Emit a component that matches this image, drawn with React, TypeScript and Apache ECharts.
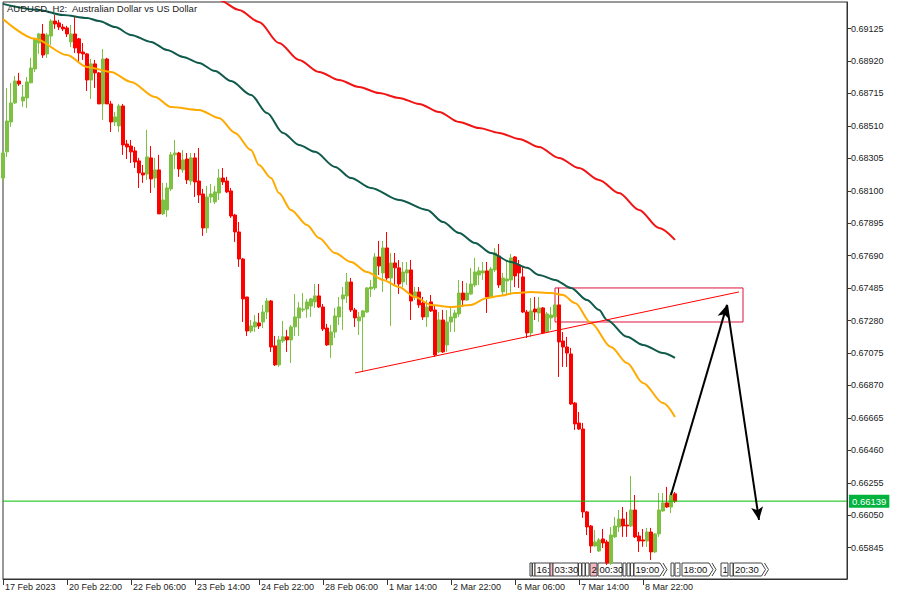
import React, { useEffect, useRef } from "react";
import * as echarts from "echarts";

// ---------- data ----------
const chartTitle = "AUDUSD, H2:  Australian Dollar vs US Dollar";
const firstBarUtc = Date.UTC(2023, 1, 17, 14, 0);
const totalSlots = 212; // bars + empty shift space on the right
const monthNames = ["Jan", "Feb", "Mar", "Apr", "May", "Jun", "Jul", "Aug", "Sep", "Oct", "Nov", "Dec"];
const xLabelEvery = 16;
const xLabelLastIndex = 160;

const yTicks = [
  0.65845, 0.6605, 0.66255, 0.6646, 0.66665, 0.6687, 0.67075, 0.6728, 0.67485,
  0.6769, 0.67895, 0.681, 0.68305, 0.6851, 0.68715, 0.6892, 0.69125,
];
const yMin = 0.65647;
const yMax = 0.69293;

// [open, close, low, high]
const ohlc: number[][] = [
  [0.68181, 0.68339, 0.68156, 0.68358], [0.68346, 0.68541, 0.68314, 0.6875], [0.68535, 0.68655, 0.68504, 0.68782],
  [0.68655, 0.68794, 0.68649, 0.68826], [0.68794, 0.68775, 0.68763, 0.68845], [0.68668, 0.68693, 0.6863, 0.68769],
  [0.68687, 0.68788, 0.68624, 0.68819], [0.68782, 0.68876, 0.6878, 0.6894], [0.6887, 0.6906, 0.68851, 0.69066],
  [0.69034, 0.69091, 0.68965, 0.69098], [0.69091, 0.68958, 0.6894, 0.69154], [0.68965, 0.69085, 0.6894, 0.69098],
  [0.69078, 0.69173, 0.69022, 0.69186], [0.69173, 0.69154, 0.69123, 0.69211], [0.69161, 0.69135, 0.69116, 0.6918],
  [0.69135, 0.69123, 0.6911, 0.69154], [0.69129, 0.69091, 0.69072, 0.69142], [0.69041, 0.69091, 0.69009, 0.69148],
  [0.69091, 0.69003, 0.68971, 0.69199], [0.6906, 0.68971, 0.68908, 0.69066], [0.68977, 0.68965, 0.68927, 0.69034],
  [0.68965, 0.688, 0.68731, 0.68971], [0.688, 0.68902, 0.6868, 0.68933], [0.68902, 0.68845, 0.6875, 0.68927],
  [0.68845, 0.68649, 0.68649, 0.68851], [0.68649, 0.68933, 0.68548, 0.68996], [0.68933, 0.68649, 0.68649, 0.6894],
  [0.68649, 0.68535, 0.68472, 0.68668], [0.68535, 0.68567, 0.6851, 0.68598], [0.6851, 0.68636, 0.68472, 0.68649],
  [0.68636, 0.6839, 0.68327, 0.68649], [0.68396, 0.68377, 0.68301, 0.68421], [0.68383, 0.68346, 0.68276, 0.68421],
  [0.68352, 0.68282, 0.68244, 0.68377], [0.68289, 0.68213, 0.68118, 0.68308], [0.68213, 0.682, 0.6815, 0.68263],
  [0.68206, 0.68314, 0.68169, 0.68485], [0.68308, 0.68175, 0.68086, 0.68383], [0.68181, 0.68232, 0.68118, 0.68308],
  [0.68232, 0.67954, 0.67954, 0.68327], [0.67954, 0.68042, 0.67947, 0.6815], [0.67979, 0.68118, 0.67935, 0.6815],
  [0.68112, 0.68327, 0.68099, 0.68346], [0.68327, 0.68339, 0.68238, 0.68421], [0.68339, 0.68238, 0.68188, 0.68346],
  [0.68232, 0.68295, 0.68213, 0.68358], [0.68301, 0.68169, 0.68143, 0.68339], [0.68162, 0.68308, 0.68137, 0.68339],
  [0.68308, 0.68156, 0.68061, 0.68339], [0.68162, 0.68074, 0.68023, 0.68371], [0.6808, 0.67865, 0.67815, 0.68112],
  [0.67865, 0.68061, 0.67834, 0.68131], [0.68061, 0.6808, 0.68023, 0.68143], [0.6803, 0.68093, 0.68017, 0.68131],
  [0.68086, 0.68181, 0.68042, 0.68238], [0.68181, 0.68156, 0.68137, 0.68244], [0.68162, 0.68093, 0.68086, 0.68188],
  [0.68099, 0.67941, 0.67929, 0.68118], [0.67947, 0.6784, 0.67777, 0.67954], [0.6784, 0.67669, 0.67619, 0.67903],
  [0.67669, 0.67417, 0.67271, 0.67676], [0.67429, 0.67214, 0.67183, 0.67429], [0.67214, 0.67246, 0.67202, 0.67284],
  [0.6724, 0.67271, 0.67208, 0.67315], [0.67265, 0.67246, 0.67227, 0.67328], [0.67271, 0.67334, 0.67233, 0.67379],
  [0.67334, 0.67404, 0.6729, 0.67423], [0.67404, 0.67113, 0.67082, 0.6741], [0.6712, 0.67, 0.66993, 0.67183],
  [0.67, 0.67158, 0.66987, 0.67183], [0.67151, 0.67177, 0.67139, 0.67278], [0.67177, 0.67158, 0.67082, 0.67221],
  [0.67158, 0.6724, 0.67012, 0.67252], [0.6724, 0.67303, 0.67183, 0.67448], [0.67297, 0.6736, 0.67183, 0.67398],
  [0.67347, 0.67353, 0.67334, 0.67454], [0.67353, 0.67398, 0.67297, 0.67417], [0.67372, 0.67417, 0.67303, 0.67423],
  [0.67398, 0.67436, 0.6736, 0.67511], [0.67436, 0.67366, 0.6736, 0.67511], [0.67366, 0.67227, 0.67214, 0.67385],
  [0.67233, 0.67126, 0.6712, 0.67259], [0.67126, 0.67208, 0.67044, 0.67252], [0.67208, 0.67309, 0.6717, 0.6736],
  [0.67303, 0.67366, 0.67252, 0.67429], [0.67417, 0.67442, 0.67221, 0.67492], [0.67436, 0.67524, 0.67391, 0.67581],
  [0.67524, 0.67347, 0.67334, 0.67549], [0.67347, 0.67297, 0.6724, 0.6736], [0.67278, 0.67303, 0.67189, 0.67334],
  [0.67303, 0.67341, 0.66955, 0.67347], [0.67334, 0.67486, 0.67328, 0.67492], [0.6748, 0.67492, 0.67429, 0.67537],
  [0.67486, 0.67682, 0.67473, 0.67707], [0.67682, 0.67625, 0.67568, 0.67783], [0.67581, 0.67739, 0.67461, 0.67783],
  [0.67739, 0.67549, 0.67537, 0.6784], [0.67549, 0.67644, 0.67246, 0.67707], [0.67644, 0.67613, 0.67505, 0.67707],
  [0.67613, 0.67511, 0.67448, 0.67663], [0.67524, 0.67587, 0.67492, 0.6765], [0.67581, 0.676, 0.67505, 0.6765],
  [0.676, 0.67404, 0.67284, 0.67663], [0.67429, 0.67461, 0.6741, 0.67492], [0.67461, 0.67379, 0.6736, 0.67492],
  [0.67391, 0.67303, 0.67284, 0.67429], [0.67303, 0.67366, 0.6724, 0.6741], [0.67398, 0.67341, 0.67334, 0.67442],
  [0.67347, 0.67063, 0.6705, 0.67379], [0.67082, 0.67284, 0.67075, 0.67334], [0.67284, 0.67082, 0.67075, 0.67347],
  [0.67126, 0.67271, 0.67082, 0.67347], [0.67271, 0.67303, 0.67208, 0.6736], [0.67297, 0.67328, 0.67208, 0.67347],
  [0.67322, 0.67454, 0.67303, 0.67537], [0.67454, 0.6741, 0.67366, 0.6753], [0.6741, 0.67454, 0.67404, 0.67518],
  [0.67448, 0.67511, 0.67442, 0.67613], [0.67505, 0.67587, 0.67492, 0.67676], [0.67568, 0.67594, 0.67505, 0.67619],
  [0.67581, 0.67594, 0.67537, 0.6765], [0.67594, 0.67429, 0.67328, 0.6765], [0.67429, 0.67606, 0.67423, 0.67619],
  [0.676, 0.67707, 0.67587, 0.67739], [0.67688, 0.67505, 0.67486, 0.67764], [0.67461, 0.67549, 0.67442, 0.67581],
  [0.6753, 0.67543, 0.67442, 0.67663], [0.67537, 0.67676, 0.67442, 0.67701], [0.67682, 0.67562, 0.67492, 0.67688],
  [0.67631, 0.67581, 0.67486, 0.67663], [0.67556, 0.67334, 0.67328, 0.67619], [0.67334, 0.67202, 0.6717, 0.67347],
  [0.67202, 0.67341, 0.67177, 0.67423], [0.67353, 0.67334, 0.67284, 0.67429], [0.67328, 0.6736, 0.67271, 0.67429],
  [0.6736, 0.67202, 0.67195, 0.67366], [0.67208, 0.67322, 0.67202, 0.67334], [0.67297, 0.67315, 0.67221, 0.67366],
  [0.67303, 0.67379, 0.67297, 0.67391], [0.67379, 0.67145, 0.66924, 0.67486], [0.67151, 0.67113, 0.66987, 0.67208],
  [0.67113, 0.67075, 0.66987, 0.67177], [0.67069, 0.66753, 0.66747, 0.67107], [0.66759, 0.66627, 0.66589, 0.66766],
  [0.66633, 0.66595, 0.66589, 0.66703], [0.66595, 0.66071, 0.66033, 0.66633], [0.66071, 0.65976, 0.65925, 0.66077],
  [0.65982, 0.65856, 0.65812, 0.65988], [0.65856, 0.65881, 0.6585, 0.65957], [0.65824, 0.65894, 0.65818, 0.65906],
  [0.659, 0.65875, 0.65843, 0.65963], [0.65881, 0.65748, 0.65736, 0.65894], [0.65748, 0.65925, 0.65736, 0.65976],
  [0.65913, 0.65982, 0.65906, 0.66039], [0.65976, 0.66026, 0.65944, 0.66083], [0.66026, 0.65982, 0.65913, 0.66102],
  [0.65988, 0.65982, 0.65913, 0.66071], [0.65982, 0.66083, 0.65976, 0.66298], [0.66083, 0.65913, 0.65906, 0.66178],
  [0.65919, 0.65887, 0.65818, 0.65944], [0.65894, 0.65887, 0.6585, 0.65963], [0.65887, 0.65944, 0.6585, 0.6597],
  [0.65944, 0.65818, 0.65767, 0.6597], [0.65818, 0.65932, 0.65812, 0.65938], [0.65932, 0.66083, 0.65913, 0.66191],
  [0.66077, 0.66128, 0.66071, 0.66191], [0.66128, 0.66102, 0.66096, 0.66229], [0.66102, 0.66178, 0.66064, 0.66197],
  [0.66185, 0.66139, 0.66128, 0.66197],
];

// moving averages: [bar index, value]
const maFast: number[][] = [
  [0, 0.69186], [8, 0.6906], [16, 0.68958], [21, 0.68883], [27, 0.68851], [32, 0.68788], [38, 0.68693],
  [42, 0.6863], [49, 0.68611], [54, 0.6856], [58, 0.68466], [62, 0.68358], [64, 0.68263], [67, 0.68181],
  [69, 0.68086], [72, 0.67979], [76, 0.67884], [79, 0.67802], [83, 0.67707], [87, 0.6765], [91, 0.67587],
  [95, 0.67537], [99, 0.67492], [103, 0.67429], [107, 0.67379], [112, 0.67366], [117, 0.67379], [121, 0.67423],
  [124, 0.67436], [128, 0.67454], [132, 0.67461], [137, 0.67454], [140, 0.67442], [143, 0.67391], [147, 0.67265],
  [152, 0.67113], [156, 0.67012], [160, 0.66886], [165, 0.66759], [168, 0.66671],
];
const maMid: number[][] = [
  [0, 0.69281], [9, 0.69243], [15, 0.69211], [21, 0.69192], [24, 0.69173], [28, 0.69135], [32, 0.69085],
  [37, 0.69041], [41, 0.6899], [45, 0.68946], [49, 0.68908], [53, 0.68857], [57, 0.68794], [62, 0.68706],
  [66, 0.68592], [70, 0.68466], [74, 0.6839], [78, 0.68346], [83, 0.68251], [87, 0.68181], [92, 0.68118],
  [99, 0.68042], [106, 0.67979], [110, 0.67903], [114, 0.67834], [118, 0.6777], [122, 0.67707], [127, 0.6765],
  [131, 0.67613], [134, 0.67568], [138, 0.67537], [142, 0.67486], [146, 0.6741], [149, 0.67347], [151, 0.67284],
  [156, 0.67177], [160, 0.67126], [165, 0.67075], [168, 0.67044],
];
const maSlow: number[][] = [
  [50, 0.6938], [54, 0.69306], [59, 0.69243], [64, 0.69167], [69, 0.69034], [74, 0.68927], [79, 0.68851],
  [84, 0.688], [89, 0.68756], [94, 0.68718], [99, 0.68687], [104, 0.68649], [109, 0.68598], [114, 0.68535],
  [119, 0.68497], [124, 0.68466], [129, 0.68428], [134, 0.68377], [139, 0.68308], [144, 0.68244], [149, 0.68169],
  [154, 0.68086], [159, 0.67979], [164, 0.67865], [168, 0.6779],
];

// drawn objects
const lastPrice = 0.66139;
const trendLine: number[][] = [[88, 0.66949], [184, 0.67461]];
const zoneFrom = [138, 0.67486];
const zoneTo = [185, 0.67271];
const arrowPath: number[][] = [[167, 0.66178], [181, 0.67379], [189, 0.6602]];
const eventLabels = ["16:", "03:30", "2", "00:30", "19:00", ":", "18:00", "1", "20:30"];

// ---------- styles / layout ----------
const BULL = "#7DC142";
const BEAR = "#FF0000";
const FONT = "Liberation Sans, Arial, sans-serif";
const AXIS = "#333";

function buildCategories(): string[] {
  const out: string[] = [];
  let t = firstBarUtc;
  while (out.length < totalSlots) {
    const d = new Date(t);
    const wd = d.getUTCDay();
    if (wd !== 0 && wd !== 6) {
      const day = d.getUTCDate();
      const mon = monthNames[d.getUTCMonth()];
      if (out.length === 0) out.push(`${day} ${mon} ${d.getUTCFullYear()}`);
      else {
        const hh = String(d.getUTCHours()).padStart(2, "0");
        const mm = String(d.getUTCMinutes()).padStart(2, "0");
        out.push(`${day} ${mon} ${hh}:${mm}`);
      }
    }
    t += 2 * 3600 * 1000;
  }
  return out;
}

// event marker boxes (layout only)
const evY0 = 563;
const evY1 = 576;
const evBoxes = [
  { x: 530, w: 2 }, { x: 532.5, w: 2.5 }, { x: 535, w: 15, t: 0 }, { x: 550, w: 3, pink: true },
  { x: 553, w: 25, t: 1 }, { x: 578.5, w: 3 }, { x: 582, w: 3 }, { x: 585.5, w: 3.5 },
  { x: 590, w: 7, t: 2, pink: true }, { x: 598, w: 24, t: 3 }, { x: 623, w: 3 }, { x: 627, w: 3 },
  { x: 630.5, w: 3 }, { x: 634, w: 26, t: 4, chev: true }, { x: 671, w: 3 }, { x: 675, w: 5, t: 5 },
  { x: 682, w: 27, t: 6, chev: true }, { x: 721, w: 7, t: 7 }, { x: 730, w: 3 }, { x: 733.5, w: 28, t: 8, chev: true },
];

function buildEventGraphics(): any[] {
  const els: any[] = [];
  const ym = (evY0 + evY1) / 2;
  evBoxes.forEach((b: any) => {
    const fill = b.pink ? "#F6B9C3" : "#FFFFFF";
    if (b.chev) {
      els.push({
        type: "polygon",
        silent: true,
        shape: { points: [[b.x, evY0], [b.x + b.w, evY0], [b.x + b.w + 4, ym], [b.x + b.w, evY1], [b.x, evY1]] },
        style: { fill, stroke: "#444", lineWidth: 1 },
      });
      els.push({
        type: "polyline",
        silent: true,
        shape: { points: [[b.x + b.w + 3, evY0], [b.x + b.w + 7, ym], [b.x + b.w + 3, evY1]] },
        style: { stroke: "#444", lineWidth: 1, fill: "none" },
      });
    } else {
      els.push({
        type: "rect",
        silent: true,
        shape: { x: b.x, y: evY0, width: b.w, height: evY1 - evY0 },
        style: { fill, stroke: "#444", lineWidth: 1 },
      });
    }
    if (b.t !== undefined) {
      els.push({
        type: "text",
        silent: true,
        x: b.x + 1.5,
        y: ym,
        style: {
          text: eventLabels[b.t],
          fontSize: 9.5,
          fontFamily: FONT,
          fill: "#111",
          textVerticalAlign: "middle",
          verticalAlign: "middle",
        },
      });
    }
  });
  return els;
}

export default function App() {
  const ref = useRef<HTMLDivElement>(null);
  useEffect(() => {
    if (!ref.current) return;
    const chart = echarts.init(ref.current, null, { renderer: "svg" });
    const categories = buildCategories();
    const showLabel = (i: number) => i % xLabelEvery === 0 && i <= xLabelLastIndex;
    const priceLine = [[0, lastPrice], [totalSlots - 1, lastPrice]];

    const option: any = {
      animation: false,
      backgroundColor: "#ffffff",
      grid: {
        left: 3,
        right: 53,
        top: 2,
        bottom: 21,
        show: true,
        borderColor: AXIS,
        borderWidth: 1,
        backgroundColor: "transparent",
      },
      xAxis: {
        type: "category",
        data: categories,
        boundaryGap: false,
        axisLine: { show: true, lineStyle: { color: AXIS, width: 1 } },
        axisTick: { show: true, interval: (i: number) => showLabel(i), length: 6, lineStyle: { color: AXIS } },
        axisLabel: {
          interval: (i: number) => showLabel(i),
          align: "left",
          margin: 3,
          padding: [0, 0, 0, 2],
          fontSize: 9,
          fontFamily: FONT,
          color: "#222",
        },
        splitLine: { show: false },
      },
      yAxis: {
        type: "value",
        position: "right",
        min: yMin,
        max: yMax,
        scale: true,
        splitLine: { show: false },
        axisLine: { show: true, lineStyle: { color: AXIS, width: 1 } },
        axisTick: { show: true, length: 4, customValues: yTicks, lineStyle: { color: AXIS } },
        axisLabel: {
          customValues: yTicks,
          formatter: (v: number) => v.toFixed(5),
          margin: 4,
          fontSize: 9,
          fontFamily: FONT,
          color: "#222",
        },
      },
      graphic: [
        {
          type: "text",
          left: 7,
          top: 3,
          silent: true,
          z: 100,
          style: { text: chartTitle, fontSize: 9.5, fontFamily: FONT, fill: "#222" },
        },
        ...buildEventGraphics(),
      ],
      series: [
        {
          type: "candlestick",
          data: ohlc,
          barWidth: 3,
          silent: true,
          itemStyle: { color: BULL, color0: BEAR, borderColor: BULL, borderColor0: BEAR, borderWidth: 1 },
          z: 2,
        },
        {
          type: "line",
          data: priceLine,
          symbol: "none",
          silent: true,
          color: "#00C000",
          lineStyle: { color: "#00C000", width: 1 },
          z: 3,
          endLabel: {
            show: true,
            distance: 2,
            formatter: () => lastPrice.toFixed(5),
            backgroundColor: "#00B33C",
            color: "#ffffff",
            padding: [2, 3, 1, 3],
            fontSize: 9.5,
            fontFamily: FONT,
          },
        },
        {
          type: "line",
          data: maFast,
          symbol: "none",
          smooth: 0.3,
          smoothMonotone: "x",
          silent: true,
          lineStyle: { color: "#FFAA00", width: 2 },
          z: 4,
        },
        {
          type: "line",
          data: maMid,
          symbol: "none",
          smooth: 0.3,
          smoothMonotone: "x",
          silent: true,
          lineStyle: { color: "#0F5A4A", width: 2 },
          z: 4,
        },
        {
          type: "line",
          data: maSlow,
          symbol: "none",
          smooth: 0.3,
          smoothMonotone: "x",
          silent: true,
          lineStyle: { color: "#F01414", width: 2 },
          z: 4,
        },
        {
          type: "line",
          data: trendLine,
          symbol: "none",
          silent: true,
          lineStyle: { color: "#FF0000", width: 1 },
          z: 5,
          markArea: {
            silent: true,
            itemStyle: { color: "rgba(0,0,0,0)", borderColor: "#DC143C", borderWidth: 1 },
            data: [[{ coord: zoneFrom }, { coord: zoneTo }]],
          },
          markLine: {
            silent: true,
            precision: 5,
            symbol: ["none", "arrow"],
            symbolSize: [9, 13],
            lineStyle: { color: "#000000", width: 2, type: "solid" },
            label: { show: false },
            data: [
              [{ coord: arrowPath[0] }, { coord: arrowPath[1] }],
              [{ coord: arrowPath[1] }, { coord: arrowPath[2] }],
            ],
          },
        },
      ],
    };
    chart.setOption(option);
    return () => chart.dispose();
  }, []);
  return (
    <div
      ref={ref}
      style={{ position: "fixed", left: 0, top: 0, width: 900, height: 600, background: "#fff" }}
    />
  );
}
